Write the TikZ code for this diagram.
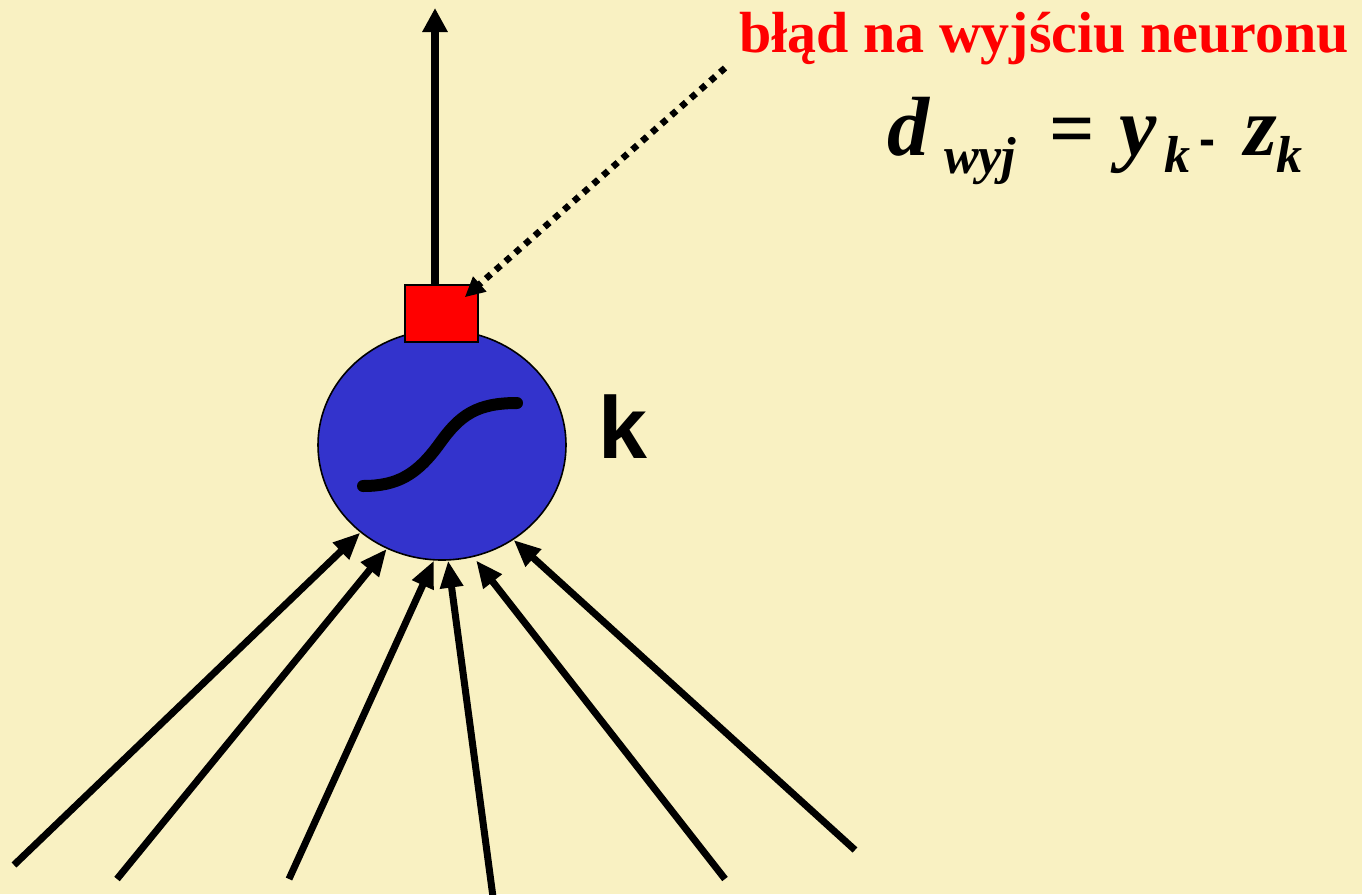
\documentclass[tikz,border=0pt]{standalone}
\usepackage{fontspec}
\usetikzlibrary{shapes.geometric,arrows.meta,calc}
\newfontfamily\serifface{Liberation Serif}
\newfontfamily\sansface{Liberation Sans}
\definecolor{bgc}{HTML}{F9F1C2}
\definecolor{neuronblue}{HTML}{3333CC}
\begin{document}
\begin{tikzpicture}[x=1pt,y=-1pt,
  inarrow/.style={line width=7pt,-{Triangle[length=27pt,width=22pt]}},
  eqtext/.style={anchor=base west,inner sep=0pt,font=\serifface\bfseries\itshape\fontsize{#1}{#1}\selectfont},
]
\useasboundingbox (0,0) rectangle (1362,894);
\fill[bgc] (0,0) rectangle (1362,894);

% neuron
\node[ellipse,draw=black,line width=1.6pt,fill=neuronblue,minimum width=248pt,minimum height=230pt,inner sep=0pt] (neuron) at (442,445) {};
\begin{scope}[shift={(neuron.center)}]
\draw[line width=12pt,line cap=round] (-79,41) .. controls (-45,41) and (-25,30) .. (-2,-2) .. controls (18,-30) and (35,-42) .. (75,-42);
\end{scope}

% output box
\node[rectangle,draw=black,line width=1.6pt,fill=red,minimum width=73pt,minimum height=57pt,inner sep=0pt] (errbox) at (441.5,313.5) {};

% output arrow
\coordinate (outtop) at (435,8);
\draw[line width=8pt,-{Triangle[length=24pt,width=24pt]}] (errbox.north -| outtop) -- (outtop);

% input arrows
\coordinate (in1) at (14,865);
\coordinate (in2) at (117,879);
\coordinate (in3) at (289,879);
\coordinate (in4) at (493,897);
\coordinate (in5) at (725,879);
\coordinate (in6) at (855,850);
\draw[inarrow] (in1) -- (neuron.227);
\draw[inarrow] (in2) -- (neuron.242.5);
\draw[inarrow] (in3) -- (neuron.266);
\draw[inarrow] (in4) -- (neuron.273.5);
\draw[inarrow] (in5) -- ($(neuron.287.5)+(0,4)$);
\draw[inarrow] (in6) -- (neuron.307);

% label k
\node[anchor=base west,inner sep=0pt,font=\sansface\bfseries\fontsize{88}{88}\selectfont] (klabel) at (598,458) {k};

% error label
\node[anchor=base west,inner sep=0pt,text=red,font=\serifface\bfseries\fontsize{58}{58}\selectfont] (errlabel) at (739,52) {błąd na wyjściu neuronu};

% dotted arrow
\coordinate (dotstart) at (725,68);
\draw[line width=6.5pt,dash pattern=on 6.5pt off 6.5pt,-{Triangle[length=20pt,width=19pt]}] (dotstart) -- ($(errbox.north east)+(-14,13)$);

% formula
\node[eqtext=84] (eqd) at (887,155) {d};
\node[eqtext=52] (eqwyj) at (944,173) {wyj};
\node[anchor=base west,inner sep=0pt,font=\serifface\bfseries\fontsize{80}{80}\selectfont] (eqeq) at (1049,155) {=};
\node[eqtext=84] (eqy) at (1119,155) {y};
\node[eqtext=52] (eqk1) at (1164,172) {k};
\node[anchor=base west,inner sep=0pt,font=\sansface\bfseries\fontsize{48}{48}\selectfont] (eqminus) at (1199,155) {-};
\node[eqtext=84] (eqz) at (1244,155) {z};
\node[eqtext=52] (eqk2) at (1276,172) {k};
\end{tikzpicture}
\end{document}
